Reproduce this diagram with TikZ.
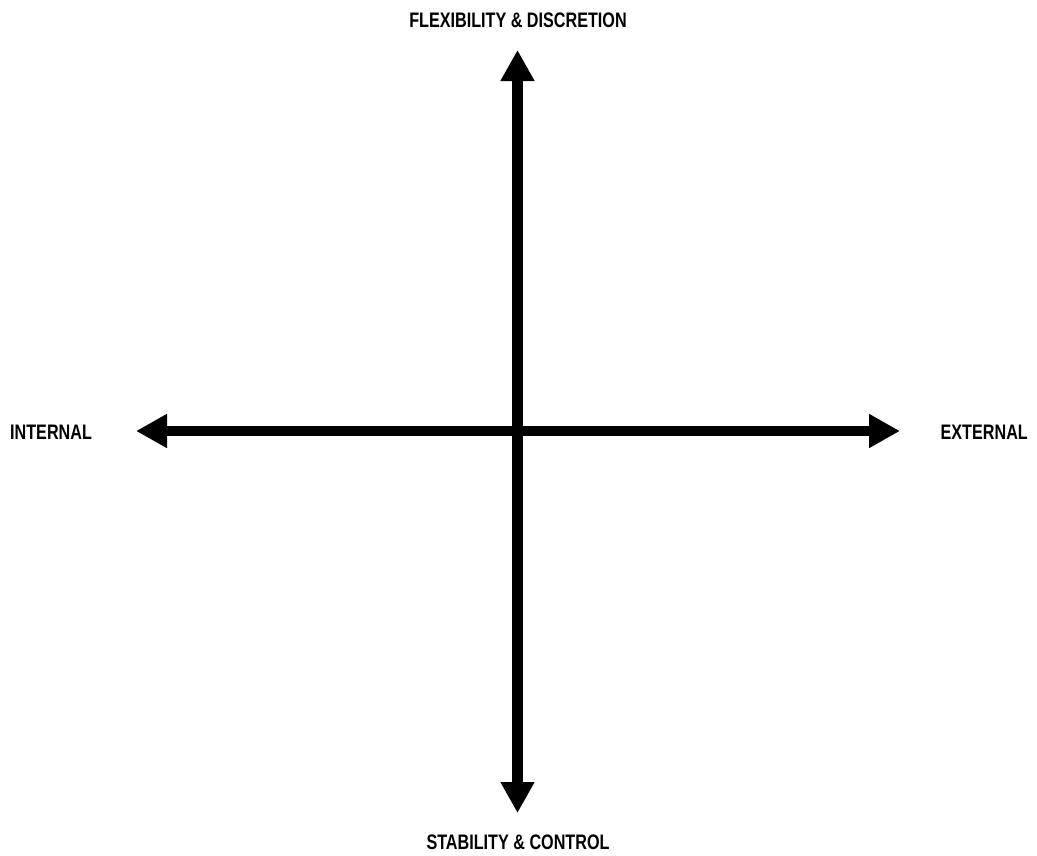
\documentclass[tikz,border=0pt]{standalone}
\usepackage{fontspec}
\setmainfont{Liberation Sans}[FakeStretch=0.77]
\usetikzlibrary{arrows.meta}
\begin{document}
\begin{tikzpicture}[x=1pt,y=1pt,
  axis/.style={line width=10.5pt,{Triangle[length=31pt,width=32pt]}-{Triangle[length=31pt,width=32pt]}},
  lbl/.style={font=\fontsize{21}{25}\selectfont\bfseries,inner sep=0pt,text=black}]
\useasboundingbox (0,0) rectangle (1037,-855);
\coordinate (top) at (517.5,-50);
\coordinate (bot) at (517.5,-813);
\coordinate (lft) at (136,-431);
\coordinate (rgt) at (900,-431);
\draw[axis] (top) -- (bot);
\draw[axis] (lft) -- (rgt);
\node[lbl] (flex) at (518,-20) {FLEXIBILITY \& DISCRETION};
\node[lbl] (stab) at (518,-842) {STABILITY \& CONTROL};
\node[lbl,anchor=west] (int) at (10,-432) {INTERNAL};
\node[lbl,anchor=east] (ext) at (1028,-432) {EXTERNAL};
\end{tikzpicture}
\end{document}
